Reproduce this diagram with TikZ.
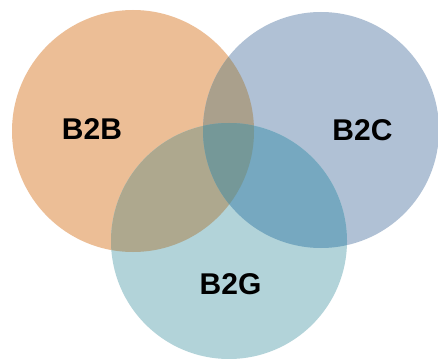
\documentclass[tikz,border=0pt]{standalone}
\usepackage{fontspec}
\setmainfont{Liberation Sans}
\definecolor{corange}{RGB}{236,190,150}
\definecolor{cblue}{RGB}{176,193,213}
\definecolor{cteal}{RGB}{178,211,217}
\definecolor{cob}{RGB}{170,160,140}
\definecolor{cot}{RGB}{174,168,142}
\definecolor{cbt}{RGB}{118,168,192}
\definecolor{call}{RGB}{117,152,152}
\begin{document}
\begin{tikzpicture}[x=1pt,y=-1pt,
  lab/.style={font=\fontsize{30}{34}\selectfont\bfseries, text=black}]
\useasboundingbox (0,0) rectangle (438,358);
\fill[white] (0,0) rectangle (438,358);
\def\corange{(133,131) circle (121)}
\def\cblue{(321,130) circle (118)}
\def\cteal{(229,241) circle (118)}
\fill[corange] \corange;
\fill[cblue] \cblue;
\fill[cteal] \cteal;
\begin{scope}
  \clip \corange; \fill[cob] \cblue;
\end{scope}
\begin{scope}
  \clip \corange; \fill[cot] \cteal;
\end{scope}
\begin{scope}
  \clip \cblue; \fill[cbt] \cteal;
\end{scope}
\begin{scope}
  \clip \corange; \clip \cblue; \fill[call] \cteal;
\end{scope}
\node[lab] (b2b) at (92,129) {B2B};
\node[lab] (b2c) at (362.5,130) {B2C};
\node[lab] (b2g) at (230.5,284.5) {B2G};
\end{tikzpicture}
\end{document}
